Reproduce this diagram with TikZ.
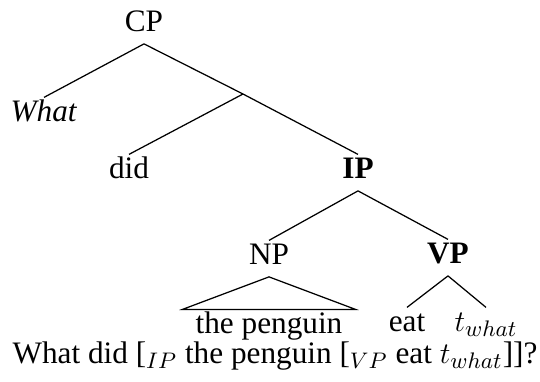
\documentclass[tikz,border=0pt]{standalone}
\usepackage{fontspec}
\setmainfont{Liberation Serif}
\usepackage{amsmath}
\usepackage{tikz}

\begin{document}
\begin{tikzpicture}[x=0.4pt, y=-0.4pt, font=\fontsize{12.5}{15}\selectfont,
  every node/.style={anchor=base, text height=0.7em, text depth=0.27em, inner ysep=2.2pt, inner xsep=1pt},
  every path/.style={line width=0.5pt}]
\useasboundingbox (0,0) rectangle (540,381);
%\tikzset{every node/.style={draw}}

\node (cp) at (144,31) {CP};
\node (what) at (44,121) {\textit{What}};
\coordinate (cbar) at (243,94);
\node (did) at (129,178) {did};
\node (ip) at (358,178) {\textbf{IP}};
\node (np) at (269,264) {NP};
\node (vp) at (448,263) {\textbf{VP}};
\node[inner xsep=5pt] (penguin) at (269,333) {the penguin};
\node (eat) at (407,331) {eat};
\node (trace) at (486,331) {$t_{what}$};

\draw (cp.south) -- (what.north);
\draw (cp.south) -- (cbar) -- (ip.north);
\draw (cbar) -- (did.north);
\draw (ip.south) -- (np.north);
\draw (ip.south) -- (vp.north);
\draw (np.south) -- (penguin.north west) -- (penguin.north east) -- cycle;
\draw (vp.south) -- (eat.north);
\draw (vp.south) -- (trace.north);

\node (gloss) at (275,363) {What did [$_{IP}$ the penguin [$_{VP}$ eat $t_{what}$]]?};
\end{tikzpicture}
\end{document}
